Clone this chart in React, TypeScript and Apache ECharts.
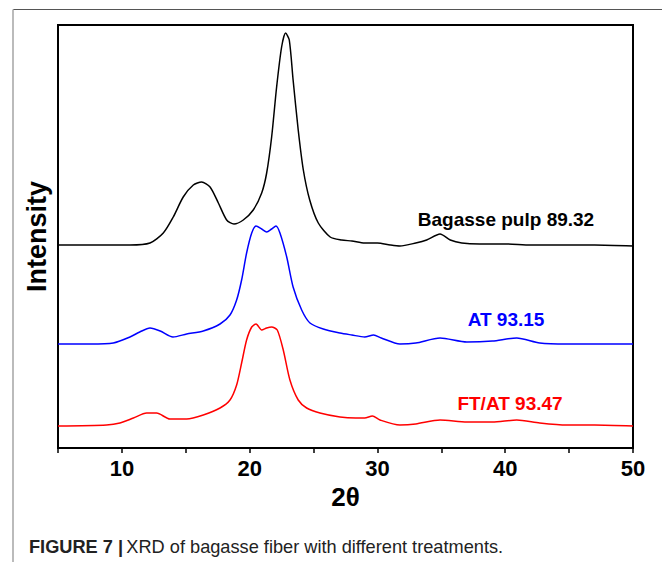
import React, { useEffect, useRef } from "react";
import * as echarts from "echarts";

// 2θ positions and intensities (a.u., curves offset as in the figure)
const pulpX = [5, 8, 10.63, 12.2, 13.24, 14.02, 14.8, 15.59, 16.24, 16.9, 17.55, 18.2, 18.77, 19.5, 20.28, 20.94, 21.33, 21.72, 22.11, 22.5, 22.81, 23.1, 23.4, 23.8, 24.2, 24.7, 25.37, 26.3, 27.2, 28, 29, 30, 31, 31.76, 33, 33.85, 34.9, 35.7, 36.6, 38, 40, 42, 45, 47, 50];
const pulpY = [203, 203, 203, 205, 215, 231, 251, 263, 266, 261, 245, 228, 224, 228, 238, 255, 275, 311, 361, 401, 415, 408, 368, 318, 278, 248, 225, 211, 208, 207, 205, 205, 203, 202, 205, 208, 214, 208, 205, 204, 204, 203, 203, 203, 202];

const atX = [5, 7.5, 9.33, 10.63, 11.4, 12.2, 13.0, 14.0, 15.07, 16.37, 17.68, 18.46, 18.98, 19.37, 19.76, 20.16, 20.5, 20.94, 21.33, 21.72, 22.06, 22.37, 22.9, 23.4, 24.07, 24.72, 25.76, 27.07, 28, 29, 29.7, 30.3, 31.76, 33, 34.9, 37, 39, 40.9, 42.7, 44.8, 47, 50];
const atY = [104, 104, 105, 111, 116, 120, 117, 111, 114, 117, 124, 133, 148, 168, 195, 215, 222, 219, 216, 219, 222, 215, 191, 161, 138, 125, 119, 115, 113, 111, 113, 110, 104, 105, 110, 106, 107, 110, 105, 104, 104, 104];

const ftatX = [5, 8.8, 9.85, 10.9, 11.94, 12.72, 13.76, 15.07, 16.37, 17.68, 18.46, 18.98, 19.37, 19.76, 20.16, 20.5, 20.94, 21.33, 21.72, 22.16, 22.63, 23.15, 23.8, 24.46, 25.5, 27.07, 28.3, 29, 29.6, 30.2, 31.76, 33, 34.9, 37, 39, 40.9, 42.7, 44.8, 47, 50];
const ftatY = [22, 23, 25, 30, 35, 35, 29, 29, 33, 40, 48, 63, 85, 108, 121, 124, 118, 120, 121, 118, 98, 68, 48, 40, 35, 31, 30, 30, 32, 28, 23, 24, 28, 26, 26, 28, 25, 23, 23, 22];

const seriesNames = ["Bagasse pulp 89.32", "AT 93.15", "FT/AT 93.47"];
const seriesColors = ["#000000", "#0000ff", "#ff0000"];
const xTickLabels = [10, 20, 30, 40, 50];

const zip = (xs: number[], ys: number[]) => xs.map((x, i) => [x, ys[i]]);

export default function App() {
  const ref = useRef<HTMLDivElement>(null);
  useEffect(() => {
    if (!ref.current) return;
    const chart = echarts.init(ref.current, undefined, { renderer: "svg" });
    const datasets = [zip(pulpX, pulpY), zip(atX, atY), zip(ftatX, ftatY)];
    chart.setOption({
      animation: false,
      backgroundColor: "#ffffff",
      grid: {
        left: 58,
        right: 29,
        top: 25,
        bottom: 114,
        show: true,
        borderColor: "#000",
        borderWidth: 2,
      },
      xAxis: {
        type: "value",
        min: 5,
        max: 50,
        interval: 5,
        name: "2θ",
        nameLocation: "middle",
        nameGap: 27,
        nameTextStyle: { fontFamily: "Liberation Sans, Arial, sans-serif", fontWeight: "bold", fontSize: 26, color: "#000" },
        axisLine: { show: true, lineStyle: { color: "#000", width: 2 } },
        axisTick: { show: true, inside: false, length: 5, lineStyle: { color: "#000", width: 1.5 } },
        axisLabel: {
          margin: 9,
          fontFamily: "Liberation Sans, Arial, sans-serif",
          fontWeight: "bold",
          fontSize: 22,
          color: "#000",
          formatter: (v: number) => (xTickLabels.includes(v) ? String(v) : ""),
        },
        splitLine: { show: false },
      },
      yAxis: {
        type: "value",
        min: 0,
        max: 423,
        name: "Intensity",
        nameLocation: "middle",
        nameGap: 8,
        nameTextStyle: { fontFamily: "Liberation Sans, Arial, sans-serif", fontWeight: "bold", fontSize: 27, color: "#000" },
        axisLine: { show: true, lineStyle: { color: "#000", width: 2 } },
        axisTick: { show: false },
        axisLabel: { show: false },
        splitLine: { show: false },
      },
      series: datasets.map((d, i) => ({
        type: "line",
        name: seriesNames[i],
        data: d,
        showSymbol: false,
        symbol: "none",
        smooth: 0.25,
        lineStyle: { color: seriesColors[i], width: 1.5 },
      })),
      graphic: [
        { type: "line", shape: { x1: 13, y1: 9.5, x2: 662, y2: 9.5 }, style: { stroke: "#555", lineWidth: 1 } },
        { type: "line", shape: { x1: 13, y1: 9.5, x2: 13, y2: 562 }, style: { stroke: "#bbbbbb", lineWidth: 2 } },
        {
          type: "text",
          x: 506,
          y: 219,
          style: { text: seriesNames[0], fill: seriesColors[0], font: "bold 19px 'Liberation Sans', Arial, sans-serif", align: "center", verticalAlign: "middle" },
        },
        {
          type: "text",
          x: 506,
          y: 319,
          style: { text: seriesNames[1], fill: seriesColors[1], font: "bold 19px 'Liberation Sans', Arial, sans-serif", align: "center", verticalAlign: "middle" },
        },
        {
          type: "text",
          x: 510,
          y: 403,
          style: { text: seriesNames[2], fill: seriesColors[2], font: "bold 19px 'Liberation Sans', Arial, sans-serif", align: "center", verticalAlign: "middle" },
        },
        {
          type: "text",
          x: 29,
          y: 547,
          style: {
            text: "{b|FIGURE 7 |} {r|XRD of bagasse fiber with different treatments.}",
            verticalAlign: "middle",
            rich: {
              b: { fontFamily: "'Liberation Sans', Arial, sans-serif", fontWeight: "bold", fontSize: 18.2, fill: "#222" },
              r: { fontFamily: "'Liberation Sans', Arial, sans-serif", fontWeight: "normal", fontSize: 18.2, fill: "#222" },
            },
          },
        },
      ],
    });
    return () => chart.dispose();
  }, []);
  return <div ref={ref} style={{ width: 662, height: 562, position: "absolute", left: 0, top: 0 }} />;
}
